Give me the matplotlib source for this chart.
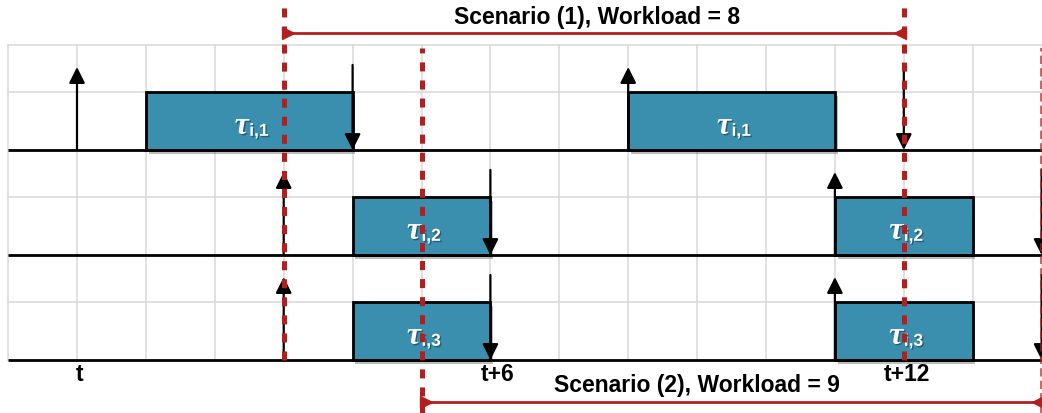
import matplotlib
matplotlib.use("Agg")
import matplotlib.pyplot as plt
from matplotlib.patches import Rectangle
import matplotlib.patheffects as pe

plt.rcParams["lines.scale_dashes"] = False

# -------- data (time in units of one slot, t = 0) --------
row_names = ["i,1", "i,2", "i,3"]
row_base = [2, 1, 0]                      # baseline level of each job row
job_spans = [[(1, 4), (8, 11)],           # executions of tau_i,1
             [(4, 6), (11, 13)],          # tau_i,2
             [(4, 6), (11, 13)]]          # tau_i,3
releases = [[0, 8], [3, 11], [3, 11]]
deadlines = [[4, 12], [6, 14], [6, 14]]

tick_pos = [0, 6, 12]
tick_labels = ["t", "t+6", "t+12"]

scen1_window = (3, 12)
scen1_label = "Scenario (1), Workload = 8"
scen2_window = (5, 14)
scen2_label = "Scenario (2), Workload = 9"

# -------- styling --------
TEAL = "#3a8fae"
RED = "#b41e1e"
GRID = "#d9d9d9"
BOX_H = 0.555
SANS = "Liberation Sans"

fig = plt.figure(figsize=(10.42, 4.13), dpi=100)
ax = fig.add_axes([0, 0, 1, 1])
ax.set_xlim(-77 / 68.9, (1042 - 77) / 68.9)
ax.set_ylim(-53 / 105, 360 / 105)
ax.axis("off")

# grid
x_grid = range(-1, 15)
for k in x_grid:
    ax.plot([k, k], [0, 3.0], color=GRID, lw=1.1, zorder=1)
for y in [3.0] + [b + BOX_H for b in row_base]:
    ax.plot([-1, 15], [y, y], color=GRID, lw=1.1, zorder=1)

# baselines
for b in row_base:
    ax.plot([-1, 15], [b, b], color="black", lw=2, zorder=4,
            solid_capstyle="butt")

# job boxes
shadow = [pe.SimplePatchShadow(offset=(2, -3), shadow_rgbFace="0.35", alpha=0.4),
          pe.Normal()]
txt_shadow = [pe.withSimplePatchShadow(offset=(1, -1), shadow_rgbFace="black",
                                       alpha=0.35)]
for name, b, spans in zip(row_names, row_base, job_spans):
    for s, e in spans:
        r = Rectangle((s, b), e - s, BOX_H, facecolor=TEAL, edgecolor="black",
                      lw=2, zorder=3, path_effects=shadow)
        ax.add_patch(r)
        cx = (s + e) / 2
        ax.annotate("τ", xy=(cx, b + 0.155), xytext=(-0.3, 0),
                    textcoords="offset points", ha="right", va="baseline",
                    color="white", fontsize=23, family="Liberation Serif",
                    style="italic", fontweight="bold", zorder=5,
                    path_effects=txt_shadow)
        ax.annotate(name, xy=(cx, b + 0.155), xytext=(0, -1.5),
                    textcoords="offset points", ha="left", va="baseline",
                    color="white", fontsize=12.5, family=SANS,
                    fontweight="bold", zorder=5, path_effects=txt_shadow)

# release (up) and deadline (down) arrows
arrow_kw = dict(arrowstyle="-|>,head_length=0.6,head_width=0.3",
                mutation_scale=16, lw=1.6, color="black",
                shrinkA=0, shrinkB=0)
for b, rel, dl in zip(row_base, releases, deadlines):
    for k in rel:
        ax.annotate("", xy=(k, b + 0.79), xytext=(k, b),
                    arrowprops=arrow_kw, zorder=6)
    for k in dl:
        ax.annotate("", xy=(k, b), xytext=(k, b + 0.81),
                    arrowprops=arrow_kw, zorder=6)

# time labels
for k, lab in zip(tick_pos, tick_labels):
    ax.text(k + (0.1 if lab == "t+6" else 0.04), -0.2, lab, ha="center",
            va="baseline", fontsize=16.5, family=SANS, fontweight="bold")

# scenario boundaries (red dashed)
top = 360 / 105
ax.plot([scen1_window[0]] * 2, [0, top], color=RED, lw=3.6,
        ls=(0, (6.5, 6.5)), zorder=8)
ax.plot([scen1_window[1]] * 2, [0, top], color=RED, lw=3.6,
        ls=(0, (6.5, 6.5)), zorder=8)
ax.plot([scen2_window[0]] * 2, [-0.51, 2.97], color=RED, lw=3.6,
        ls=(0, (6.5, 6.5)), zorder=8)
ax.plot([scen2_window[1] - 0.01] * 2, [-0.51, 2.97], color=RED, lw=1.2,
        ls=(0, (6, 3)), alpha=0.8, zorder=8)

# scenario spans
off = 4 / 68.9
for (a, c), y, lab, ty in [(scen1_window, 3.114, scen1_label, 3.26),
                           (scen2_window, -0.40, scen2_label, -0.24)]:
    ax.plot([a, c], [y, y], color=RED, lw=2, zorder=7,
            solid_capstyle="butt")
    ax.plot(a + off, y, marker=">", ms=8, color=RED, mec=RED, zorder=7)
    ax.plot(c - off, y, marker="<", ms=8, color=RED, mec=RED, zorder=7)
    ax.text((a + c) / 2 + (0.05 if ty > 0 else -0.5), ty, lab, ha="center",
            va="center", fontsize=16.5, family=SANS, fontweight="bold")

fig.savefig("out.png", dpi=100)
